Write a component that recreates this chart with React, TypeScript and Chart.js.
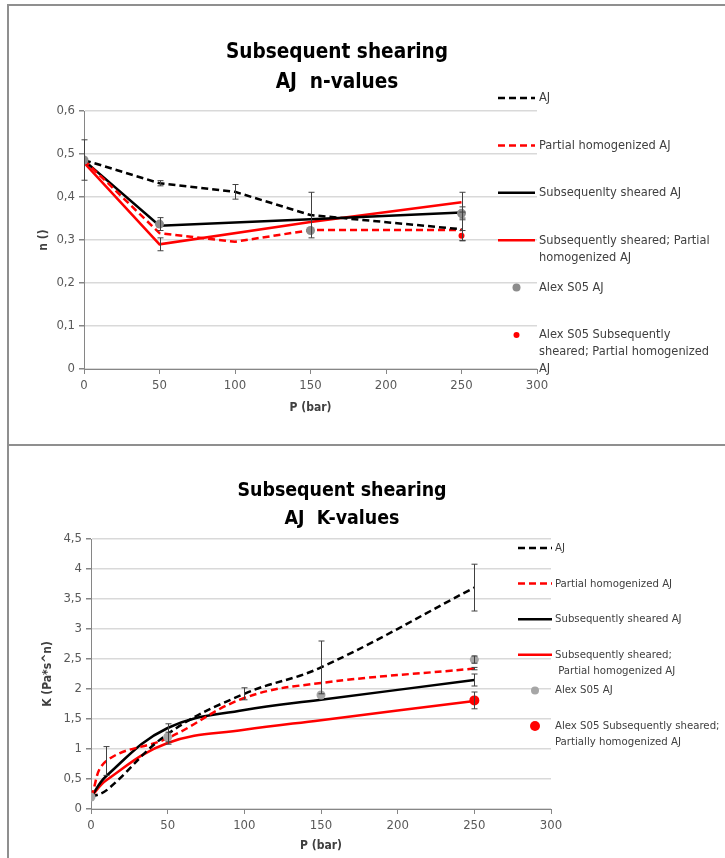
import React, { useEffect, useRef } from "react";
import { Chart, registerables } from "chart.js";

Chart.register(...registerables);

// ---------------- n-values chart data ----------------
const N_P_AJ = [0, 50, 100, 150, 250];
const N_AJ = [0.486, 0.432, 0.412, 0.358, 0.325];
const N_AJ_ERR = [0.047, 0.006, 0.017, 0.053, 0.026];

const N_P_PH = [0, 50, 100, 150, 250];
const N_PH = [0.486, 0.316, 0.296, 0.323, 0.323];

const N_P_SS = [0, 50, 150, 250];
const N_SS = [0.485, 0.333, 0.348, 0.364];

const N_P_SSPH = [0, 50, 150, 250];
const N_SSPH = [0.48, 0.29, 0.342, 0.388];
const N_SSPH_ERR = [0, 0.015, 0, 0.023];

const N_P_ALEX = [0, 50, 150, 250];
const N_ALEX = [0.486, 0.337, 0.322, 0.362];
const N_ALEX_ERR = [0, 0.015, 0, 0.015];

const N_P_ALEX_SSPH = [250];
const N_ALEX_SSPH = [0.31];
const N_ALEX_SSPH_ERR = [0.012];

const N_TITLE = ["Subsequent shearing", "AJ  n-values"];
const N_LEGEND = [
  ["AJ"],
  ["Partial homogenized AJ"],
  ["Subsequenlty sheared AJ"],
  ["Subsequently sheared; Partial", "homogenized AJ"],
  ["Alex S05 AJ"],
  ["Alex S05 Subsequently", "sheared; Partial homogenized", "AJ"],
];

// ---------------- K-values chart data ----------------
const K_P_AJ = [0, 10, 50, 100, 150, 250];
const K_AJ = [0.2, 0.31, 1.25, 1.92, 2.36, 3.69];
const K_AJ_ERR = [0, 0, 0.17, 0.1, 0.44, 0.39];

const K_P_PH = [0, 10, 50, 100, 150, 250];
const K_PH = [0.2, 0.8, 1.18, 1.85, 2.1, 2.34];
const K_PH_ERR = [0, 0.24, 0, 0, 0, 0.02];

const K_P_SS = [0, 10, 50, 100, 150, 250];
const K_SS = [0.2, 0.55, 1.35, 1.65, 1.82, 2.15];
const K_SS_ERR = [0, 0, 0, 0, 0, 0.1];

const K_P_SSPH = [0, 10, 50, 100, 150, 250];
const K_SSPH = [0.2, 0.48, 1.1, 1.32, 1.48, 1.8];

const K_P_ALEX = [0, 50, 150, 250];
const K_ALEX = [0.2, 1.2, 1.9, 2.49];
const K_ALEX_ERR = [0, 0.08, 0, 0.06];

const K_P_ALEX_SSPH = [250];
const K_ALEX_SSPH = [1.81];
const K_ALEX_SSPH_ERR = [0.14];

const K_TITLE = ["Subsequent shearing", "AJ  K-values"];
const K_LEGEND = [
  ["AJ"],
  ["Partial homogenized AJ"],
  ["Subsequently sheared AJ"],
  ["Subsequently sheared;", " Partial homogenized AJ"],
  ["Alex S05 AJ"],
  ["Alex S05 Subsequently sheared;", "Partially homogenized AJ"],
];

const X_MAX = 300;
const X_STEP = 50;

// ---------------- styling ----------------
const FONT = '"Liberation Sans Narrow", "DejaVu Sans Condensed", "Liberation Sans", sans-serif';
const TEXT = "#404040";
const TICK = "#595959";
const AXIS = "#868686";
const GRID = "#d9d9d9";
const DASH = [7, 4];

function xy(ps: number[], vs: number[]) {
  return ps.map((p, i) => ({ x: p, y: vs[i] }));
}

const errorBarPlugin = {
  id: "errbars",
  afterDatasetsDraw(chart: any) {
    const ctx = chart.ctx;
    const xs = chart.scales.x;
    const ys = chart.scales.y;
    chart.data.datasets.forEach((ds: any) => {
      const errs = ds.errorBars;
      if (!errs) return;
      ds.data.forEach((pt: any, j: number) => {
        const e = errs[j];
        if (!e) return;
        const px = Math.round(xs.getPixelForValue(pt.x)) + 0.5;
        const y1 = ys.getPixelForValue(pt.y + e);
        const y2 = ys.getPixelForValue(pt.y - e);
        ctx.save();
        ctx.strokeStyle = "#404040";
        ctx.lineWidth = 1;
        ctx.setLineDash([]);
        ctx.beginPath();
        ctx.moveTo(px, y1);
        ctx.lineTo(px, y2);
        ctx.moveTo(px - 3, y1);
        ctx.lineTo(px + 3, y1);
        ctx.moveTo(px - 3, y2);
        ctx.lineTo(px + 3, y2);
        ctx.stroke();
        ctx.restore();
      });
    });
  },
};

const sideLegendPlugin = {
  id: "sideLegend",
  afterDraw(chart: any, _args: any, opts: any) {
    const ctx = chart.ctx;
    const { x0, x1, tx, y0, dy, lh, size } = opts;
    ctx.save();
    chart.data.datasets.forEach((ds: any, i: number) => {
      const y = y0 + i * dy;
      if (ds.showLine === false) {
        ctx.beginPath();
        ctx.fillStyle = ds.pointBackgroundColor;
        ctx.arc((x0 + x1) / 2, y, ds.legendRadius, 0, Math.PI * 2);
        ctx.fill();
      } else {
        ctx.beginPath();
        ctx.strokeStyle = ds.borderColor;
        ctx.lineWidth = ds.borderWidth;
        ctx.setLineDash(ds.borderDash || []);
        ctx.moveTo(x0, y);
        ctx.lineTo(x1, y);
        ctx.stroke();
        ctx.setLineDash([]);
      }
      ctx.fillStyle = TEXT;
      ctx.font = `${size}px ${FONT}`;
      ctx.textAlign = "left";
      ctx.textBaseline = "middle";
      (ds.legendLines as string[]).forEach((t, k) => {
        ctx.fillText(t, tx, y + k * lh);
      });
    });
    ctx.restore();
  },
};

function lineDs(label: string[], ps: number[], vs: number[], color: string, dashed: boolean, tension: number, errs?: number[]) {
  return {
    label: label.join(" "),
    legendLines: label,
    data: xy(ps, vs),
    showLine: true,
    borderColor: color,
    backgroundColor: color,
    borderWidth: 2.5,
    borderDash: dashed ? DASH : [],
    pointRadius: 0,
    tension,
    fill: false,
    order: 1,
    errorBars: errs,
  };
}

function pointDs(label: string[], ps: number[], vs: number[], color: string, r: number, legendR: number, errs?: number[]) {
  return {
    label: label.join(" "),
    legendLines: label,
    data: xy(ps, vs),
    showLine: false,
    borderColor: color,
    backgroundColor: color,
    pointBackgroundColor: color,
    pointBorderColor: color,
    pointRadius: r,
    pointBorderWidth: 0,
    order: 0,
    legendRadius: legendR,
    errorBars: errs,
  };
}

function fmt(v: number) {
  return String(Number(Number(v).toFixed(2))).replace(".", ",");
}

function makeConfig(p: any) {
  return {
    type: "scatter",
    data: { datasets: p.datasets },
    options: {
      animation: false,
      responsive: false,
      devicePixelRatio: 1,
      layout: { padding: p.padding },
      elements: { line: { borderCapStyle: "butt" } },
      plugins: {
        legend: { display: false },
        tooltip: { enabled: false },
        title: {
          display: true,
          text: p.title,
          color: "#000000",
          font: { family: FONT, size: p.titleSize, weight: "bold", lineHeight: p.titleLH },
          padding: { top: p.titlePadTop, bottom: p.titlePadBottom },
        },
        sideLegend: p.legend,
      },
      scales: {
        x: {
          type: "linear",
          position: "bottom",
          min: 0,
          max: X_MAX,
          ticks: {
            stepSize: X_STEP,
            color: TICK,
            font: { family: FONT, size: 13 },
            padding: 4,
            maxRotation: 0,
          },
          grid: { drawOnChartArea: false, drawTicks: true, tickLength: 5, tickColor: AXIS },
          border: { display: true, color: AXIS, width: 1 },
          title: {
            display: true,
            text: "P (bar)",
            color: TEXT,
            font: { family: FONT, size: 12, weight: "bold" },
            padding: { top: 0, bottom: p.xTitlePad },
          },
          afterFit(s: any) {
            s.height = p.xHeight;
          },
        },
        y: {
          type: "linear",
          position: "left",
          min: 0,
          max: p.yMax,
          ticks: {
            stepSize: p.yStep,
            color: TICK,
            font: { family: FONT, size: 13 },
            padding: 4,
            callback: (v: any) => fmt(v),
          },
          grid: { color: GRID, lineWidth: 1.5, drawTicks: true, tickLength: 5, tickColor: AXIS },
          border: { display: true, color: AXIS, width: 1 },
          title: {
            display: true,
            text: p.yTitle,
            color: TEXT,
            font: { family: FONT, size: 12, weight: "bold" },
            padding: { top: p.yTitlePad, bottom: 0 },
          },
          afterFit(s: any) {
            s.width = p.yWidth;
          },
        },
        r: {
          type: "linear",
          position: "right",
          display: true,
          grid: { display: false },
          border: { display: false },
          ticks: { display: false },
          afterFit(s: any) {
            s.width = p.rWidth;
          },
        },
      },
    },
    plugins: [errorBarPlugin, sideLegendPlugin],
  };
}

function ChartCanvas({ config, width, height, top }: any) {
  const ref = useRef<HTMLCanvasElement | null>(null);
  useEffect(() => {
    if (!ref.current) return;
    const chart = new Chart(ref.current, config);
    return () => chart.destroy();
  }, []);
  return (
    <canvas
      ref={ref}
      width={width}
      height={height}
      style={{ position: "absolute", left: 0, top, width, height, display: "block" }}
    />
  );
}

export default function App() {
  const nDatasets = [
    lineDs(N_LEGEND[0], N_P_AJ, N_AJ, "#000000", true, 0, N_AJ_ERR),
    lineDs(N_LEGEND[1], N_P_PH, N_PH, "#ff0000", true, 0),
    lineDs(N_LEGEND[2], N_P_SS, N_SS, "#000000", false, 0),
    lineDs(N_LEGEND[3], N_P_SSPH, N_SSPH, "#ff0000", false, 0, N_SSPH_ERR),
    pointDs(N_LEGEND[4], N_P_ALEX, N_ALEX, "#8c8c8c", 4.5, 4, N_ALEX_ERR),
    pointDs(N_LEGEND[5], N_P_ALEX_SSPH, N_ALEX_SSPH, "#ff0000", 3, 3, N_ALEX_SSPH_ERR),
  ];
  const kDatasets = [
    lineDs(K_LEGEND[0], K_P_AJ, K_AJ, "#000000", true, 0.4, K_AJ_ERR),
    lineDs(K_LEGEND[1], K_P_PH, K_PH, "#ff0000", true, 0.4, K_PH_ERR),
    lineDs(K_LEGEND[2], K_P_SS, K_SS, "#000000", false, 0.4, K_SS_ERR),
    lineDs(K_LEGEND[3], K_P_SSPH, K_SSPH, "#ff0000", false, 0.4),
    pointDs(K_LEGEND[4], K_P_ALEX, K_ALEX, "#a6a6a6", 4.5, 4, K_ALEX_ERR),
    pointDs(K_LEGEND[5], K_P_ALEX_SSPH, K_ALEX_SSPH, "#ff0000", 5, 5, K_ALEX_SSPH_ERR),
  ];

  const nConfig = makeConfig({
    datasets: nDatasets,
    padding: { left: 0, right: 51, top: 0, bottom: 24 },
    title: N_TITLE,
    titleSize: 20.6,
    titleLH: 30 / 20.6,
    titlePadTop: 38,
    titlePadBottom: 13,
    yMax: 0.6,
    yStep: 0.1,
    yTitle: "n ()",
    yTitlePad: 37,
    yWidth: 84,
    xHeight: 50,
    xTitlePad: 4,
    rWidth: 137,
    legend: { x0: 498, x1: 535, tx: 539, y0: 98, dy: 47.4, lh: 17, size: 12.7 },
  });

  const kConfig = makeConfig({
    datasets: kDatasets,
    padding: { left: 0, right: 41, top: 0, bottom: 0 },
    title: K_TITLE,
    titleSize: 19.4,
    titleLH: 28 / 19.4,
    titlePadTop: 31,
    titlePadBottom: 6,
    yMax: 4.5,
    yStep: 0.5,
    yTitle: "K (Pa*s^n)",
    yTitlePad: 41,
    yWidth: 91,
    xHeight: 49,
    xTitlePad: 5,
    rWidth: 133,
    legend: { x0: 518, x1: 552, tx: 555, y0: 102, dy: 35.6, lh: 16, size: 11.3 },
  });

  return (
    <div
      style={{
        position: "absolute",
        left: 0,
        top: 0,
        width: 725,
        height: 858,
        overflow: "hidden",
        background: "#ffffff",
      }}
    >
      <ChartCanvas config={nConfig} width={725} height={443} top={0} />
      <ChartCanvas config={kConfig} width={725} height={412} top={446} />
      <div
        style={{
          position: "absolute",
          left: 7,
          top: 4,
          width: 740,
          height: 438,
          border: "2px solid #8f8f8f",
          pointerEvents: "none",
        }}
      />
      <div
        style={{
          position: "absolute",
          left: 7,
          top: 444,
          width: 740,
          height: 440,
          border: "2px solid #8f8f8f",
          pointerEvents: "none",
        }}
      />
    </div>
  );
}
